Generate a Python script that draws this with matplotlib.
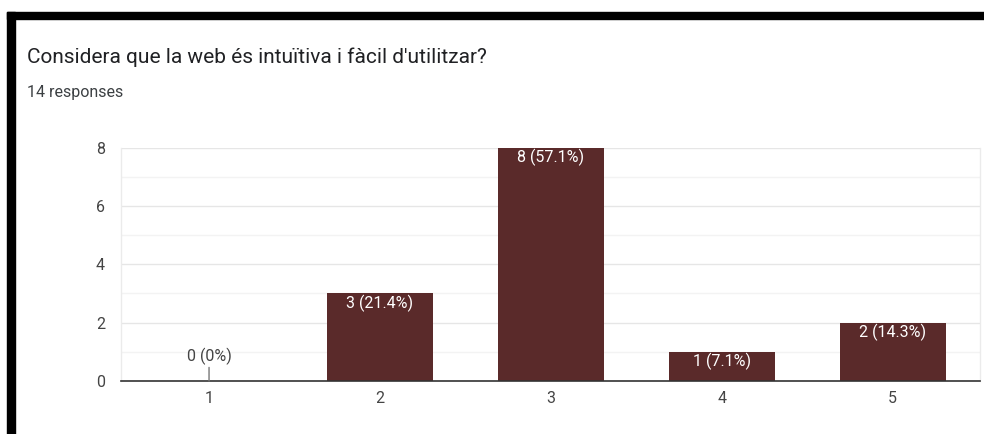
import matplotlib
matplotlib.use("Agg")
import matplotlib.pyplot as plt
from matplotlib.patches import Rectangle

categories = ["1", "2", "3", "4", "5"]
counts = [0, 3, 8, 1, 2]
labels = ["0 (0%)", "3 (21.4%)", "8 (57.1%)", "1 (7.1%)", "2 (14.3%)"]
yticks = [0, 2, 4, 6, 8]

plt.rcParams['font.family'] = ['Roboto', 'DejaVu Sans']

fig = plt.figure(figsize=(9.84, 4.34), dpi=100)
W, H = 984, 434

# black frame (top and left)
fig.patches.append(Rectangle((7 / W, 1 - 19 / H), 1 - 7 / W, 7 / H,
                             transform=fig.transFigure, color='black', zorder=10))
fig.patches.append(Rectangle((7 / W, 0), 8 / W, 1 - 12 / H,
                             transform=fig.transFigure, color='black', zorder=10))

fig.text(27 / W, 1 - 57 / H, "Considera que la web és intuïtiva i fàcil d'utilitzar?",
         fontsize=15, color='#202124', va='center', ha='left')
fig.text(27 / W, 1 - 92 / H, "14 responses", fontsize=11.5, color='#3c4043',
         va='center', ha='left')

ax = fig.add_axes([121 / W, 1 - 381 / H, (980 - 121) / W, (381 - 147.5) / H])
x = list(range(1, len(categories) + 1))
color = '#5a2a2a'
ax.bar(x, counts, width=0.62, color=color, zorder=3)
ax.set_xlim(0.485, 5.51)
ax.set_ylim(0, 8)
ax.set_yticks(yticks)
ax.set_yticks([1, 3, 5, 7], minor=True)
ax.set_xticks(x)
ax.set_xticklabels(categories)
ax.grid(axis='y', which='major', color='#e6e6e6', linewidth=1, zorder=0)
ax.grid(axis='y', which='minor', color='#f3f3f3', linewidth=1, zorder=0)
ax.tick_params(axis='both', which='both', length=0, labelsize=11.5, labelcolor='#444444')
ax.tick_params(axis='y', pad=11.5)
ax.tick_params(axis='x', pad=7.5)
for s in ['left', 'right', 'top']:
    ax.spines[s].set_color('#ebebeb')
    ax.spines[s].set_linewidth(1)
ax.spines['top'].set_visible(False)
ax.spines['bottom'].set_color('#333333')
ax.spines['bottom'].set_linewidth(1.2)
ax.spines['bottom'].set_zorder(4)

for xi, c, lab in zip(x, counts, labels):
    if c > 0:
        ax.annotate(lab, (xi, c), xytext=(0, -7), textcoords='offset points',
                    ha='center', va='center', color='white', fontsize=11.5, zorder=5)
    else:
        ax.annotate(lab, (xi, c), xytext=(0, 18), textcoords='offset points',
                    ha='center', va='center', color='#444444', fontsize=11.5, zorder=5,
                    arrowprops=dict(arrowstyle='-', color='#777777', lw=1.0,
                                    shrinkA=0, shrinkB=0,
                                    relpos=(0.5, 0.0)))

fig.savefig("out.png", dpi=100)
